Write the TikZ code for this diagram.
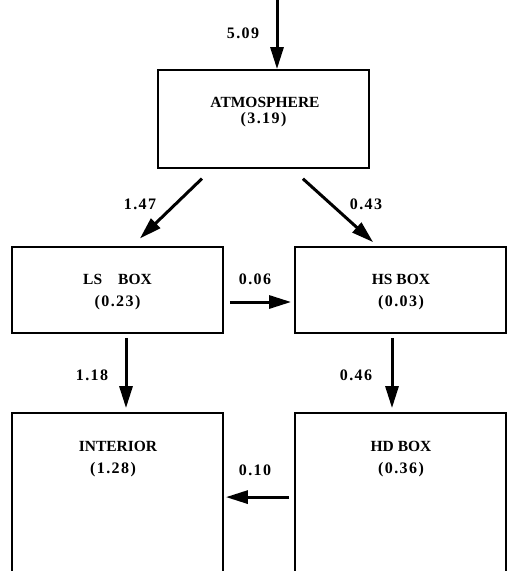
\documentclass[tikz,border=0pt]{standalone}
\usepackage{fontspec}
\setmainfont{Liberation Serif}
\newfontfamily\numfont[LetterSpace=9]{Liberation Serif}
\usetikzlibrary{arrows.meta,calc}
\begin{document}
\begin{tikzpicture}[x=1pt,y=-1pt,
  box/.style={draw,line width=1.8pt,rectangle,inner sep=0pt},
  arr/.style={line width=3pt,-{Triangle[length=22pt,width=13pt]}},
  lbl/.style={font=\fontsize{15.5}{18}\selectfont\bfseries,inner sep=0pt,anchor=base},
  num/.style={font=\fontsize{16}{18}\selectfont\numfont\bfseries,inner sep=0pt,anchor=base},
]
\useasboundingbox (0,0) rectangle (509,571);
\clip (0,0) rectangle (509,571);
% boxes
\node[box,minimum width=211pt,minimum height=98pt] (atm) at (263.5,119) {};
\node[box,minimum width=211pt,minimum height=86pt] (ls) at (117.5,290) {};
\node[box,minimum width=211pt,minimum height=86pt] (hs) at (400.5,290) {};
\node[box,minimum width=211pt,minimum height=190pt] (int) at (117.5,508) {};
\node[box,minimum width=211pt,minimum height=190pt] (hd) at (400.5,508) {};
% box texts
\node[lbl] (tatm) at (265,107) {ATMOSPHERE};
\node[num] (vatm) at (263.5,123) {(3.19)};
\node[lbl] (tls) at (117.5,284) {LS\hspace{16pt}BOX};
\node[num] (vls) at (117.5,306) {(0.23)};
\node[lbl] (ths) at (401,284) {HS BOX};
\node[num] (vhs) at (401,306) {(0.03)};
\node[lbl] (tint) at (118,451) {INTERIOR};
\node[num] (vint) at (113,473) {(1.28)};
\node[lbl] (thd) at (401,451) {HD BOX};
\node[num] (vhd) at (401,473) {(0.36)};
% connectors
\coordinate (in) at (277,0);
\draw[arr] (in) -- (atm.north -| in);
\draw[arr,shorten <=14pt,shorten >=11pt] ($(atm.south)+(-51.5,0)$) -- ($(ls.north)+(14.5,0)$);
\draw[arr,shorten <=14.7pt,shorten >=5.9pt] ($(atm.south)+(28.5,0)$) -- ($(hs.north)+(-23,0)$);
\draw[arr,shorten <=6pt,shorten >=3pt] ($(ls.east)+(0,12)$) -- ($(hs.west)+(0,12)$);
\draw[arr,shorten <=4pt,shorten >=4pt] ($(ls.south)+(8.5,0)$) -- ($(int.north)+(8.5,0)$);
\draw[arr,shorten <=4pt,shorten >=4pt] ($(hs.south)+(-8.5,0)$) -- ($(hd.north)+(-8.5,0)$);
\draw[arr,shorten <=5pt,shorten >=2pt] ($(hd.north west)+(0,85)$) -- ($(int.north east)+(0,85)$);
% flow labels
\node[num] (f1) at (243,38) {5.09};
\node[num] (f2) at (140,209) {1.47};
\node[num] (f3) at (366,209) {0.43};
\node[num] (f4) at (255,284) {0.06};
\node[num] (f5) at (92,380) {1.18};
\node[num] (f6) at (356,380) {0.46};
\node[num] (f7) at (255,475) {0.10};
\end{tikzpicture}
\end{document}
